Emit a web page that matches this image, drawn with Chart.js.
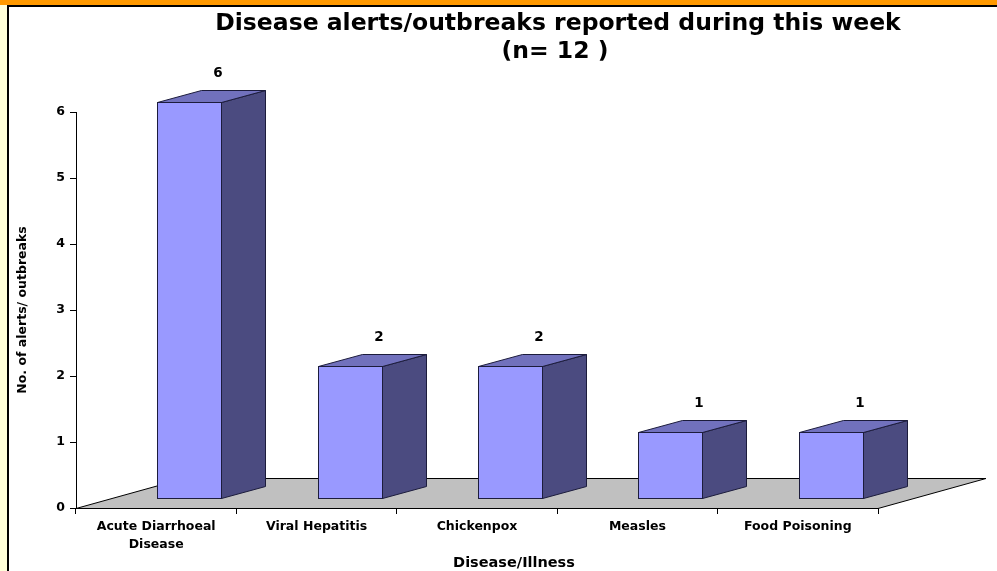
<!DOCTYPE html>
<html>
<head>
<meta charset="utf-8">
<script src="https://cdn.jsdelivr.net/npm/chart.js@4.4.0/dist/chart.umd.min.js"></script>
<style>
html, body { margin: 0; padding: 0; background: #fff; }
#frame { position: relative; width: 997px; height: 571px; background: #ffffd9; overflow: hidden; }
#bandTop { position: absolute; left: 0; top: 0; width: 997px; height: 5px; background: #ff9900; }
#lineTop { position: absolute; left: 7px; top: 5px; width: 990px; height: 2px; background: #000; }
#lineLeft { position: absolute; left: 7px; top: 5px; width: 2px; height: 566px; background: #000; }
#wrap { position: absolute; left: 9px; top: 7px; width: 988px; height: 564px; background: #fff; }
</style>
</head>
<body>
<div id="frame">
  <div id="bandTop"></div>
  <div id="lineTop"></div>
  <div id="lineLeft"></div>
  <div id="wrap"><canvas id="alertsChart" width="988" height="564"></canvas></div>
</div>
<script>
// data
const categories = [['Acute Diarrhoeal', 'Disease'], 'Viral Hepatitis', 'Chickenpox', 'Measles', 'Food Poisoning'];
const alertCounts = [6, 2, 2, 1, 1];
const yTicks = [0, 1, 2, 3, 4, 5, 6];

const titleLines = ['Disease alerts/outbreaks reported during this week', '(n= 12 )'];
const xTitle = 'Disease/Illness';
const yTitle = 'No. of alerts/ outbreaks';

const FONT = 'DejaVu Sans';

// fake 3d: floor and boxes drawn over the (invisible) bars
const box3d = {
    id: 'box3d',
    beforeDatasetsDraw(chart) {
        const ctx = chart.ctx;
        const a = chart.chartArea;
        const y0 = chart.scales.y.getPixelForValue(0) + 0.5;
        ctx.save();
        ctx.beginPath();
        ctx.moveTo(a.left, y0);
        ctx.lineTo(a.right, y0);
        ctx.lineTo(a.right + 108, y0 - 30);
        ctx.lineTo(a.left + 108, y0 - 30);
        ctx.closePath();
        ctx.fillStyle = '#c0c0c0';
        ctx.fill();
        ctx.strokeStyle = '#000';
        ctx.lineWidth = 1;
        ctx.stroke();
        ctx.restore();
    },
    afterDatasetsDraw(chart) {
        const ctx = chart.ctx;
        const ys = chart.scales.y;
        const meta = chart.getDatasetMeta(0);
        const dx = 44, dy = -12;
        ctx.save();
        ctx.lineWidth = 1;
        ctx.strokeStyle = '#1c1c3c';
        meta.data.forEach((bar, i) => {
            const fc = Math.round(bar.x) + 33;
            const x0 = fc - 32 + 0.5, x1 = fc + 32 + 0.5;
            const by = Math.round(ys.getPixelForValue(0)) - 10 + 0.5;
            const ty = Math.round(ys.getPixelForValue(alertCounts[i])) - 10 + 0.5;
            // side
            ctx.beginPath();
            ctx.moveTo(x1, ty);
            ctx.lineTo(x1 + dx, ty + dy);
            ctx.lineTo(x1 + dx, by + dy);
            ctx.lineTo(x1, by);
            ctx.closePath();
            ctx.fillStyle = '#4b4b80';
            ctx.fill();
            ctx.stroke();
            // top
            ctx.beginPath();
            ctx.moveTo(x0, ty);
            ctx.lineTo(x0 + dx, ty + dy);
            ctx.lineTo(x1 + dx, ty + dy);
            ctx.lineTo(x1, ty);
            ctx.closePath();
            ctx.fillStyle = '#7171bd';
            ctx.fill();
            ctx.stroke();
            // front
            ctx.fillStyle = '#9999ff';
            ctx.fillRect(x0, ty, x1 - x0, by - ty);
            ctx.strokeRect(x0, ty, x1 - x0, by - ty);
            // value
            ctx.fillStyle = '#000';
            ctx.font = 'bold 13.5px "' + FONT + '"';
            ctx.textAlign = 'center';
            ctx.textBaseline = 'middle';
            ctx.fillText(String(alertCounts[i]), fc + 29, ty - 29);
        });
        ctx.restore();
    },
    afterDraw(chart) {
        const ctx = chart.ctx;
        ctx.save();
        ctx.fillStyle = '#000';
        ctx.textAlign = 'center';
        ctx.textBaseline = 'middle';
        ctx.font = 'bold 23.5px "' + FONT + '"';
        ctx.fillText(titleLines[0], 549, 17);
        ctx.fillText(titleLines[1], 546, 45);
        ctx.font = 'bold 14.5px "' + FONT + '"';
        ctx.fillText(xTitle, 505, 556);
        ctx.restore();
    }
};

const ctx = document.getElementById('alertsChart').getContext('2d');

new Chart(ctx, {
    type: 'bar',
    data: {
        labels: categories,
        datasets: [{
            data: alertCounts,
            backgroundColor: 'rgba(0,0,0,0)',
            borderWidth: 0
        }]
    },
    options: {
        responsive: false,
        animation: false,
        layout: { padding: { left: 0, right: 119, top: 105, bottom: 0 } },
        plugins: {
            legend: { display: false },
            title: { display: false },
            tooltip: { enabled: false }
        },
        scales: {
            x: {
                offset: true,
                grid: { drawOnChartArea: false, offset: true, tickLength: 6, color: '#000' },
                border: { color: '#000', width: 1 },
                ticks: {
                    color: '#000',
                    font: { family: FONT, weight: 'bold', size: 12.5, lineHeight: 1.4 },
                    padding: 4,
                    maxRotation: 0,
                    autoSkip: false
                },
                afterFit(scale) { scale.height = 63; }
            },
            y: {
                min: 0,
                max: 6,
                afterBuildTicks(scale) { scale.ticks = yTicks.map(v => ({ value: v })); },
                grid: { drawOnChartArea: false, tickLength: 6, color: '#000' },
                border: { color: '#000', width: 1 },
                ticks: {
                    color: '#000',
                    font: { family: FONT, weight: 'bold', size: 12.5 },
                    padding: 5
                },
                title: {
                    display: true,
                    text: yTitle,
                    color: '#000',
                    font: { family: FONT, weight: 'bold', size: 12.5 },
                    padding: { top: 6, bottom: 0 }
                },
                afterFit(scale) { scale.width = 67; }
            }
        }
    },
    plugins: [box3d]
});
</script>
</body>
</html>
